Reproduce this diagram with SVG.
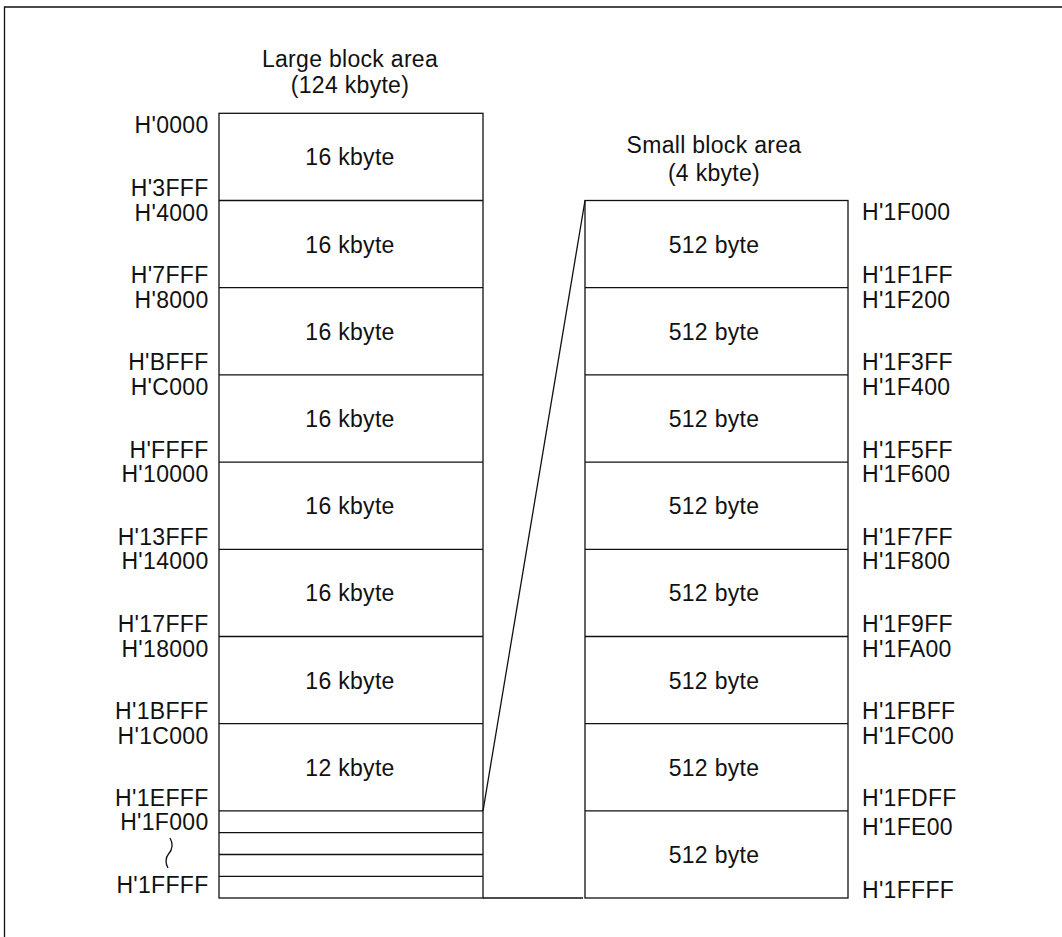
<svg xmlns="http://www.w3.org/2000/svg" width="1062" height="937" viewBox="0 0 1062 937">
<style>
text{font-family:"Liberation Sans",Arial,sans-serif;font-size:23px;letter-spacing:0.3px;fill:#111}
.l{text-anchor:end}
.m{text-anchor:middle}
.ln{stroke:#111;stroke-width:1.3;fill:none}
</style>
<rect width="1062" height="937" fill="#fff"/>
<path class="ln" d="M4.5,937 V7 H1062"/>
<g id="titles">
<text class="m" x="350" y="67">Large block area</text>
<text class="m" x="350" y="93">(124 kbyte)</text>
<text class="m" x="714" y="153">Small block area</text>
<text class="m" x="714" y="181">(4 kbyte)</text>
</g>
<g id="large-area">
<rect class="ln" x="219" y="113.3" width="264" height="784.7"/>
<path class="ln" d="M219,200.5H483M219,287.7H483M219,374.9H483M219,462.1H483M219,549.3H483M219,636.5H483M219,723.7H483M219,810.9H483M219,832.7H483M219,854.5H483M219,876.3H483"/>
<g>
<text class="m" x="350" y="165.3">16 kbyte</text>
<text class="m" x="350" y="252.5">16 kbyte</text>
<text class="m" x="350" y="339.7">16 kbyte</text>
<text class="m" x="350" y="426.9">16 kbyte</text>
<text class="m" x="350" y="514.1">16 kbyte</text>
<text class="m" x="350" y="601.3">16 kbyte</text>
<text class="m" x="350" y="688.5">16 kbyte</text>
<text class="m" x="350" y="775.7">12 kbyte</text>
</g>
<g id="large-labels">
<text class="l" x="208.5" y="133.3">H'0000</text>
<text class="l" x="208.5" y="196">H'3FFF</text>
<text class="l" x="208.5" y="220.5">H'4000</text>
<text class="l" x="208.5" y="283.2">H'7FFF</text>
<text class="l" x="208.5" y="307.7">H'8000</text>
<text class="l" x="208.5" y="370.4">H'BFFF</text>
<text class="l" x="208.5" y="394.9">H'C000</text>
<text class="l" x="208.5" y="457.6">H'FFFF</text>
<text class="l" x="208.5" y="482.1">H'10000</text>
<text class="l" x="208.5" y="544.8">H'13FFF</text>
<text class="l" x="208.5" y="569.3">H'14000</text>
<text class="l" x="208.5" y="632">H'17FFF</text>
<text class="l" x="208.5" y="656.5">H'18000</text>
<text class="l" x="208.5" y="719.2">H'1BFFF</text>
<text class="l" x="208.5" y="743.7">H'1C000</text>
<text class="l" x="208.5" y="806">H'1EFFF</text>
<text class="l" x="208.5" y="830">H'1F000</text>
<text class="l" x="208.5" y="893">H'1FFFF</text>
</g>
<path class="ln" d="M170,838 C173.5,844 172,850 168.5,854 C165,858 165.5,864 168,868"/>
</g>
<g id="small-area">
<rect class="ln" x="585" y="200.5" width="263" height="697.5"/>
<path class="ln" d="M585,287.7H848M585,374.9H848M585,462.1H848M585,549.3H848M585,636.5H848M585,723.7H848M585,810.9H848"/>
<text class="m" x="714" y="252.5">512 byte</text>
<text class="m" x="714" y="339.7">512 byte</text>
<text class="m" x="714" y="426.9">512 byte</text>
<text class="m" x="714" y="514.1">512 byte</text>
<text class="m" x="714" y="601.3">512 byte</text>
<text class="m" x="714" y="688.5">512 byte</text>
<text class="m" x="714" y="775.7">512 byte</text>
<text class="m" x="714" y="863.3">512 byte</text>
<g id="small-labels">
<text x="862" y="220">H'1F000</text>
<text x="862" y="283.2">H'1F1FF</text>
<text x="862" y="307.7">H'1F200</text>
<text x="862" y="370.4">H'1F3FF</text>
<text x="862" y="394.9">H'1F400</text>
<text x="862" y="457.6">H'1F5FF</text>
<text x="862" y="482.1">H'1F600</text>
<text x="862" y="544.8">H'1F7FF</text>
<text x="862" y="569.3">H'1F800</text>
<text x="862" y="632">H'1F9FF</text>
<text x="862" y="656.5">H'1FA00</text>
<text x="862" y="719.2">H'1FBFF</text>
<text x="862" y="743.7">H'1FC00</text>
<text x="862" y="806">H'1FDFF</text>
<text x="862" y="835">H'1FE00</text>
<text x="862" y="898">H'1FFFF</text>
</g>
</g>
<g id="connectors">
<path class="ln" d="M483,810.9 L585,200.5"/>
<path class="ln" d="M483,898 H583"/>
</g>
</svg>
